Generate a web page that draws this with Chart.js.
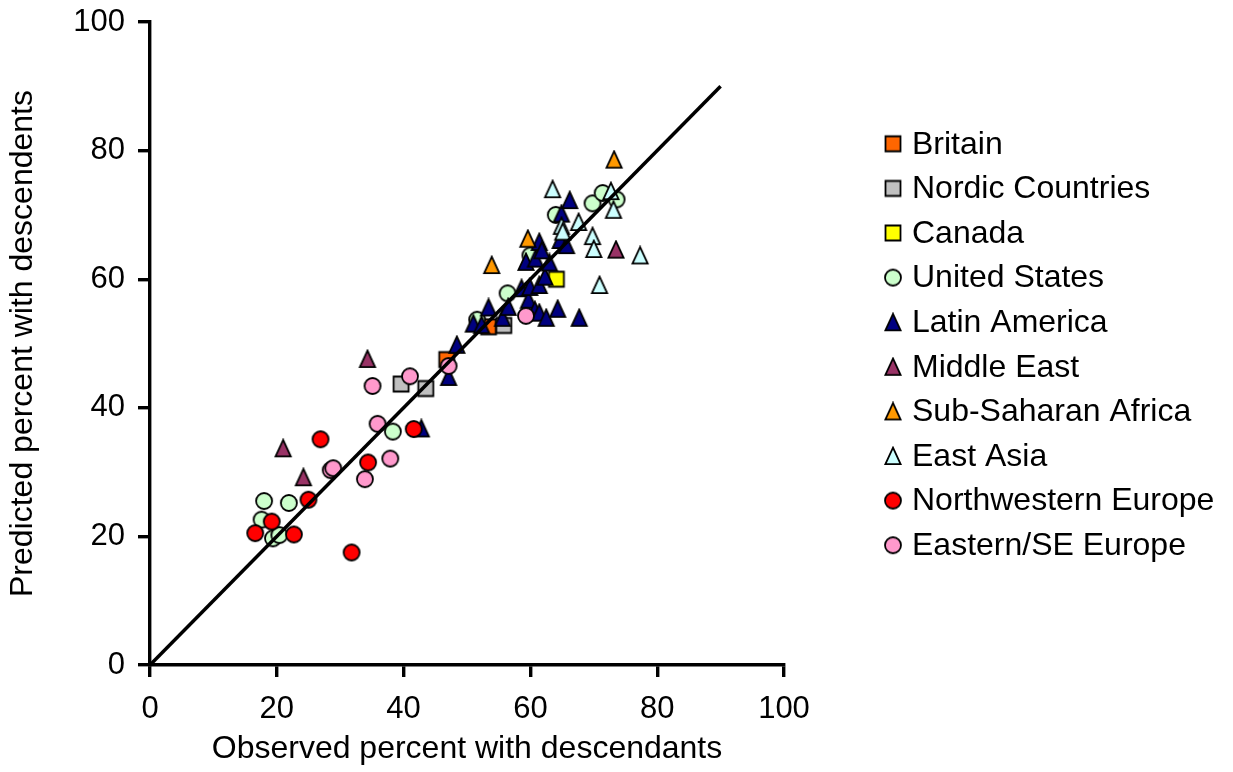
<!DOCTYPE html>
<html>
<head>
<meta charset="utf-8">
<script src="https://cdn.jsdelivr.net/npm/chart.js@4"></script>
<style>
    body { margin: 0; background: #fff; }
    #wrap { width: 1233px; height: 772px; }
</style>
</head>
<body>
<div id="wrap"><canvas id="graphique"></canvas></div>
<script>
const seriesNames = ["Britain", "Nordic Countries", "Canada", "United States", "Latin America",
    "Middle East", "Sub-Saharan Africa", "East Asia", "Northwestern Europe", "Eastern/SE Europe"];

const obsBritain = [46.8, 53.4];
const predBritain = [47.5, 52.6];

const obsNordic = [39.6, 43.5, 55.8];
const predNordic = [43.7, 43.0, 52.8];

const obsCanada = [64.1];
const predCanada = [60.0];

const obsUS = [18.0, 21.9, 17.6, 19.4, 20.4, 38.3, 51.6, 56.4, 60.0, 64.0, 69.8, 71.4, 73.6];
const predUS = [25.5, 25.2, 22.6, 19.7, 20.2, 36.3, 53.7, 57.8, 63.7, 70.0, 71.8, 73.4, 72.4];

const obsLatin = [42.8, 47.1, 48.4, 51.0, 52.3, 53.4, 55.6, 56.5, 58.6, 59.7, 59.9, 61.4, 60.7, 61.4,
    62.5, 64.3, 67.7, 62.3, 59.3, 60.8, 63.0, 61.4, 61.8, 64.7, 65.7, 64.9, 66.2];
const predLatin = [36.8, 44.8, 49.8, 53.1, 52.9, 55.6, 54.0, 55.7, 58.6, 56.8, 58.8, 59.1, 55.2, 54.8,
    54.0, 55.4, 54.0, 60.4, 62.7, 63.2, 62.6, 65.8, 64.5, 66.1, 65.3, 70.2, 72.3];

const obsMiddleEast = [21.0, 24.2, 34.3, 73.5];
const predMiddleEast = [33.7, 29.2, 47.6, 64.6];

const obsAfrica = [53.9, 59.6, 73.2];
const predAfrica = [62.2, 66.3, 78.6];

const obsEastAsia = [63.5, 72.7, 73.1, 67.6, 64.9, 65.1, 69.8, 70.0, 77.3, 70.9];
const predEastAsia = [74.0, 73.7, 70.8, 68.9, 68.3, 67.4, 66.7, 64.7, 63.7, 59.1];

const obsNWEurope = [16.6, 19.2, 22.7, 25.0, 26.9, 31.8, 34.4, 41.6];
const predNWEurope = [20.5, 22.3, 20.3, 25.7, 35.1, 17.5, 31.5, 36.7];

const obsEEurope = [28.5, 28.9, 33.9, 35.1, 35.9, 37.9, 41.0, 47.1, 59.3];
const predEEurope = [30.3, 30.6, 28.9, 43.4, 37.5, 32.1, 44.9, 46.5, 54.3];

const observedValues = [obsBritain, obsNordic, obsCanada, obsUS, obsLatin,
    obsMiddleEast, obsAfrica, obsEastAsia, obsNWEurope, obsEEurope];
const predictedValues = [predBritain, predNordic, predCanada, predUS, predLatin,
    predMiddleEast, predAfrica, predEastAsia, predNWEurope, predEEurope];

// droite y = x
const fitLineX = [0, 90];
const fitLineY = [0, 90];

const axisTicks = [0, 20, 40, 60, 80, 100];

// Styles
const seriesColors = ["#FF6600", "#C0C0C0", "#FFFF00", "#CCFFCC", "#000080",
    "#993366", "#FF9900", "#CCFFFF", "#FF0000", "#FF99CC"];
const seriesShapes = ["rect", "rect", "rect", "circle", "triangle",
    "triangle", "triangle", "triangle", "circle", "circle"];

const police = "'Liberation Sans', Arial, sans-serif";

// Marqueurs façon Excel (triangle un peu plus haut que large)
function creerMarqueur(forme, couleur) {
    const c = document.createElement("canvas");
    c.width = 20;
    c.height = 20;
    const ctx = c.getContext("2d");
    const cx = 10, cy = 10;
    ctx.fillStyle = couleur;
    ctx.strokeStyle = "#000";
    ctx.lineWidth = 1.8;
    ctx.lineJoin = "miter";
    ctx.beginPath();
    if (forme === "rect") {
        ctx.rect(cx - 7.5, cy - 7.5, 15, 15);
    } else if (forme === "circle") {
        ctx.arc(cx, cy, 8, 0, Math.PI * 2);
    } else {
        ctx.moveTo(cx, cy - 8.3);
        ctx.lineTo(cx + 7.6, cy + 8.1);
        ctx.lineTo(cx - 7.6, cy + 8.1);
        ctx.closePath();
    }
    ctx.fill();
    ctx.stroke();
    return c;
}

const marqueurs = seriesShapes.map((forme, i) => creerMarqueur(forme, seriesColors[i]));

const datasets = [];
for (let i = 0; i < seriesNames.length; i++) {
    const points = [];
    for (let j = 0; j < observedValues[i].length; j++) {
        points.push({ x: observedValues[i][j], y: predictedValues[i][j] });
    }
    datasets.push({
        label: seriesNames[i],
        data: points,
        pointStyle: marqueurs[i],
        pointRadius: 8,
        pointHoverRadius: 8,
        backgroundColor: seriesColors[i],
        borderColor: "#000",
        order: seriesNames.length - i + 1,
    });
}

const lignePoints = [];
for (let i = 0; i < fitLineX.length; i++) {
    lignePoints.push({ x: fitLineX[i], y: fitLineY[i] });
}
datasets.push({
    type: "line",
    label: "fit",
    data: lignePoints,
    borderColor: "#000",
    borderWidth: 3.5,
    pointRadius: 0,
    fill: false,
    order: 0,
});

// Légende dessinée à la main à droite du graphique
const legendePlugin = {
    id: "legendeDroite",
    afterDraw(chart) {
        const ctx = chart.ctx;
        const area = chart.chartArea;
        const step = 44.6;
        const y0 = (area.top + area.bottom) / 2 - step * (seriesNames.length - 1) / 2;
        ctx.save();
        ctx.font = "32px " + police;
        ctx.textBaseline = "middle";
        ctx.fillStyle = "#000";
        for (let i = 0; i < seriesNames.length; i++) {
            const y = y0 + i * step;
            const m = marqueurs[i];
            ctx.drawImage(m, area.right + 109 - m.width / 2, y + 1 - m.height / 2);
            ctx.fillText(seriesNames[i], area.right + 128, y + 2);
        }
        ctx.restore();
    },
};

const axeCommun = {
    type: "linear",
    min: 0,
    max: 100,
    border: { display: true, color: "#000", width: 3.4 },
    grid: { drawOnChartArea: false, drawTicks: true, tickLength: 12, color: "#000", lineWidth: 3.4 },
};

const config = {
    type: "scatter",
    data: { datasets: datasets },
    options: {
        responsive: true,
        maintainAspectRatio: false,
        animation: false,
        layout: { padding: { left: 0, top: 22, right: 449, bottom: 0 } },
        plugins: {
            legend: { display: false },
            tooltip: { enabled: false },
        },
        scales: {
            x: {
                ...axeCommun,
                position: "bottom",
                afterBuildTicks: (axis) => { axis.ticks = axisTicks.map(v => ({ value: v })); },
                afterFit: (axis) => {
                    axis.height = 107;
                    axis.paddingLeft = 0;
                    axis.paddingRight = 0;
                },
                ticks: { color: "#000", padding: 14, font: { family: police, size: 31 } },
                title: {
                    display: true,
                    text: "Observed percent with descendants",
                    color: "#000",
                    font: { family: police, size: 32 },
                },
            },
            y: {
                ...axeCommun,
                position: "left",
                afterBuildTicks: (axis) => { axis.ticks = axisTicks.map(v => ({ value: v })); },
                afterFit: (axis) => {
                    axis.width = 150;
                    axis.paddingTop = 0;
                    axis.paddingBottom = 0;
                },
                ticks: { color: "#000", padding: 13, font: { family: police, size: 31 } },
                title: {
                    display: true,
                    text: "Predicted percent with descendents",
                    color: "#000",
                    font: { family: police, size: 32 },
                },
            },
        },
    },
    plugins: [legendePlugin],
};

const graphique = new Chart(document.querySelector("#graphique"), config);
</script>
</body>
</html>
